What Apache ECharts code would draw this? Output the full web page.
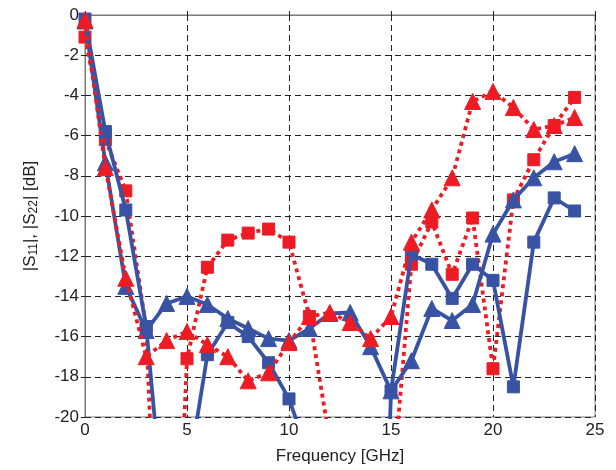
<!DOCTYPE html>
<html>
<head>
<meta charset="utf-8">
<script src="https://cdn.jsdelivr.net/npm/echarts@6/dist/echarts.min.js"></script>
<style>html,body{margin:0;padding:0;background:#fff}#c{width:616px;height:470px}</style>
</head>
<body>
<div id="c"></div>
<script>
const freq = [0,1,2,3,4,5,6,7,8,9,10,11,12,13,14,15,16,17,18,19,20,21,22,23,24];
const blueSquares = [-0.2,-5.8,-9.7,-15.5,-26.5,-23.2,-16.9,-15.3,-16.0,-17.3,-19.1,-22,-30,-40,-50,-18.7,-11.9,-12.4,-14.1,-12.4,-13.2,-18.5,-11.3,-9.1,-9.75];
const blueTriangles = [-0.3,-7.35,-13.5,-15.7,-14.35,-14.0,-14.4,-15.1,-15.6,-16.1,-16.2,-15.6,-14.85,-14.8,-16.5,-18.7,-17.2,-14.6,-15.2,-14.4,-10.9,-9.2,-8.1,-7.3,-6.9];
const redSquares = [-1.1,-6.2,-8.75,-15.6,-40,-17.1,-12.55,-11.2,-10.85,-10.65,-11.3,-15.0,-21.2,-25,-26,-24.4,-12.4,-10.3,-12.9,-10.1,-17.6,-9.2,-7.2,-5.5,-4.1];
const redTriangles = [-0.25,-7.6,-13.1,-17.0,-16.2,-15.75,-16.4,-17.0,-18.2,-17.8,-16.3,-15.0,-14.8,-15.3,-16.1,-15.0,-11.3,-9.7,-8.1,-4.3,-3.8,-4.6,-5.7,-5.5,-5.1];
const xTicks = {min:0, max:25, interval:5};
const yTicks = {min:-20, max:0, interval:2};

const BLUE = '#3953a4';
const RED = '#ed1c24';
const FONT = 'Liberation Sans, Arial, sans-serif';

function pairs(ys){ return freq.map((x,i)=>[x, ys[i]]); }
function mk(name, ys, color, symbol, size, dotted, z){
  return {
    name, type:'line', data:pairs(ys), clip:true, z,
    symbol, symbolSize:size, showAllSymbol:true,
    lineStyle:{color, width:3.8, type: dotted ? [4,4] : 'solid', cap:'butt'},
    itemStyle:{color, borderColor:color, borderWidth:1},
    emphasis:{disabled:true}, animation:false
  };
}

const chart = echarts.init(document.getElementById('c'), null, {renderer:'canvas'});
const axisLine = {show:true, lineStyle:{color:'#7a7a7a', width:1}};
const split = {show:true, lineStyle:{color:'#222', type:[6,4], width:1}};
chart.setOption({
  animation:false,
  grid:{left:85, right:21, top:15, bottom:51, show:true, borderColor:'#7a7a7a', borderWidth:1},
  xAxis:[{
    type:'value', min:xTicks.min, max:xTicks.max, interval:xTicks.interval,
    axisLine, axisTick:{show:true, inside:true, length:4, lineStyle:{color:'#222'}},
    splitLine:split,
    axisLabel:{color:'#222', fontFamily:FONT, fontSize:17, margin:5},
    name:'Frequency [GHz]', nameLocation:'middle', nameGap:31,
    nameTextStyle:{color:'#222', fontFamily:FONT, fontSize:17}
  },{
    type:'value', position:'top', min:xTicks.min, max:xTicks.max, interval:xTicks.interval,
    axisLine, axisTick:{show:true, inside:true, length:4, lineStyle:{color:'#222'}},
    axisLabel:{show:false}, splitLine:{show:false}
  }],
  yAxis:[{
    type:'value', min:yTicks.min, max:yTicks.max, interval:yTicks.interval,
    axisLine, axisTick:{show:true, inside:true, length:4, lineStyle:{color:'#222'}},
    splitLine:split,
    axisLabel:{color:'#222', fontFamily:FONT, fontSize:17, margin:6},
    name:'|S{sub|11}|, |S{sub|22}| [dB]', nameLocation:'middle', nameGap:45, nameRotate:90,
    nameTextStyle:{color:'#222', fontFamily:FONT, fontSize:17,
      rich:{sub:{fontFamily:FONT, fontSize:12, color:'#222', verticalAlign:'bottom', padding:[7,0,0,0]}}}
  },{
    type:'value', position:'right', min:yTicks.min, max:yTicks.max, interval:yTicks.interval,
    axisLine, axisTick:{show:true, inside:true, length:4, lineStyle:{color:'#222'}},
    axisLabel:{show:false}, splitLine:{show:false}
  }],
  series:[
    mk('S22 sim', redSquares, RED, 'rect', 12, true, 2),
    mk('S11 meas', blueSquares, BLUE, 'rect', 12, false, 3),
    mk('S22 meas', blueTriangles, BLUE, 'triangle', 16, false, 4),
    mk('S11 sim', redTriangles, RED, 'triangle', 16, true, 5)
  ]
});
</script>
</body>
</html>
